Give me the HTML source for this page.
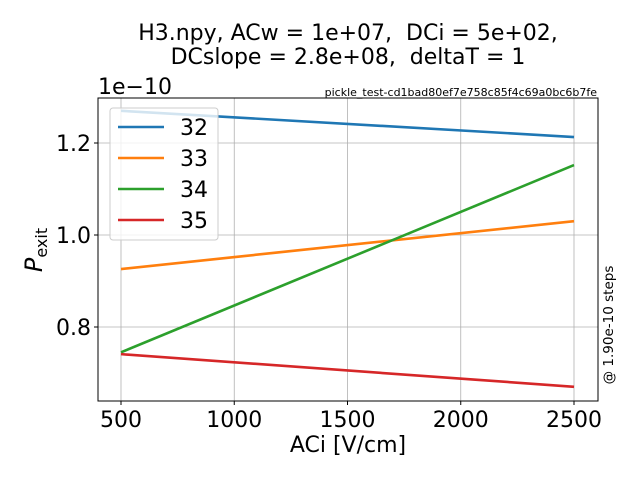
<!DOCTYPE html>
<html><head><meta charset="utf-8"><style>
body{margin:0;background:#fff;}
svg{display:block;font-family:"DejaVu Sans","Liberation Sans",sans-serif;}
text{white-space:pre;}
</style></head><body>
<svg id="chart" width="640" height="480">
<text x="348" y="40" font-size="22" text-anchor="middle">H3.npy, ACw = 1e+07,  DCi = 5e+02,</text>
<text x="348" y="64" font-size="22" text-anchor="middle">DCslope = 2.8e+08,  deltaT = 1</text>
<text x="597" y="96" font-size="11" text-anchor="end">pickle_test-cd1bad80ef7e758c85f4c69a0bc6b7fe</text>
<text x="98" y="94" font-size="22">1e−10</text>
<g id="grid"></g>
<g id="lines"></g>
<rect x="98" y="98" width="500" height="303" fill="none" stroke="#000" stroke-width="1"/>
<g id="ticks"></g>
<text x="348" y="452" font-size="22" text-anchor="middle">ACi [V/cm]</text>
<text transform="translate(42,250) rotate(-90)" font-size="24" text-anchor="middle"><tspan font-style="italic">P</tspan><tspan font-size="16" dy="5">exit</tspan></text>
<text transform="translate(613,325) rotate(-90)" font-size="13.5" text-anchor="middle">@ 1.90e-10 steps</text>
<g id="legend"></g>
</svg>
<script>
const xValues=[500,2500];
const seriesNames=["32","33","34","35"];
const series32=[1.270,1.213];
const series33=[0.926,1.030];
const series34=[0.745,1.152];
const series35=[0.741,0.670];
const xTicks=[500,1000,1500,2000,2500];
const yTicks=[0.8,1.0,1.2];
const yTickLabels=["0.8","1.0","1.2"];
const colors=["#1f77b4","#ff7f0e","#2ca02c","#d62728"];
const NS="http://www.w3.org/2000/svg";
const X=v=>121+(v-500)*(453/2000);
const Y=v=>235-(v-1.0)*460;
function mk(t,a,p){const e=document.createElementNS(NS,t);for(const k in a)e.setAttribute(k,a[k]);p.appendChild(e);return e;}
const grid=document.getElementById('grid'),ticks=document.getElementById('ticks'),lines=document.getElementById('lines'),leg=document.getElementById('legend');
xTicks.forEach(t=>{
 const g=mk('line',{x1:X(t),x2:X(t),y1:98,y2:401,stroke:'#b0b0b0','stroke-width':0.8},grid);
 
 
 mk('line',{x1:X(t),x2:X(t),y1:401,y2:405,stroke:'#000'},ticks);
 const l=mk('text',{x:X(t),y:427,'font-size':22,'text-anchor':'middle'},ticks);l.textContent=t;
 
 
});
yTicks.forEach((t,i)=>{
 const g=mk('line',{x1:98,x2:598,y1:Y(t),y2:Y(t),stroke:'#b0b0b0','stroke-width':0.8},grid);
 
 
 mk('line',{x1:94,x2:98,y1:Y(t),y2:Y(t),stroke:'#000'},ticks);
 const l=mk('text',{x:91,y:Y(t)+8,'font-size':22,'text-anchor':'end'},ticks);l.textContent=yTickLabels[i];
 
 
});
[series32,series33,series34,series35].forEach((s,i)=>{
 const p=mk('polyline',{points:xValues.map((x,j)=>X(x)+','+Y(s[j])).join(' '),fill:'none',stroke:colors[i],'stroke-width':2.6},lines);
 
 
});
const box=mk('rect',{x:110,y:108,width:108,height:132,rx:3,fill:'#fff','fill-opacity':0.8,stroke:'#ccc'},leg);


seriesNames.forEach((n,i)=>{
 const y=127+i*31;
 mk('line',{x1:118,x2:164,y1:y,y2:y,stroke:colors[i],'stroke-width':2.6},leg);
 const t=mk('text',{x:180,y:y+8,'font-size':22},leg);t.textContent=n;
 
 
});
</script>
</body></html>
